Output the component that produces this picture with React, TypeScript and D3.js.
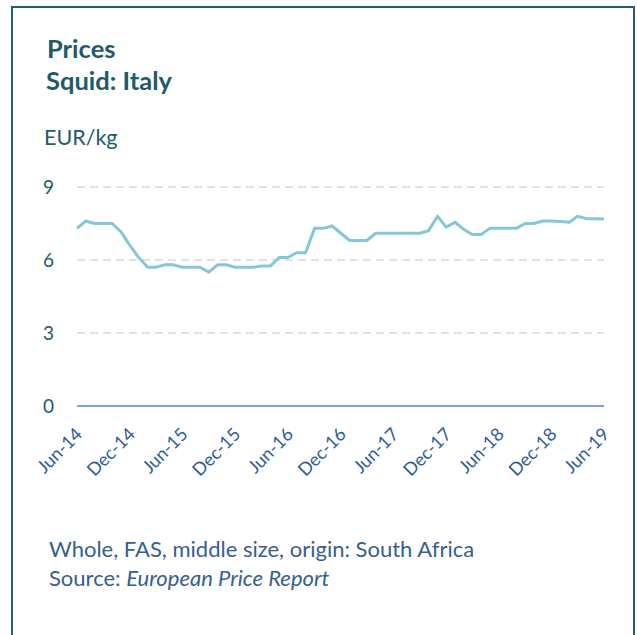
import React from "react";
import * as d3 from "d3";

const titleLines = ["Prices", "Squid: Italy"];
const unitLabel = "EUR/kg";
const yTicks = [0, 3, 6, 9];
const xTickLabels = ["Jun-14", "Dec-14", "Jun-15", "Dec-15", "Jun-16", "Dec-16", "Jun-17", "Dec-17", "Jun-18", "Dec-18", "Jun-19"];
const startYear = 2014;
const startMonth = 5; // June (0-based)
const prices = [
  7.3, 7.6, 7.5, 7.5, 7.5, 7.15, 6.6, 6.1, 5.7, 5.7, 5.8, 5.8,
  5.7, 5.7, 5.7, 5.5, 5.8, 5.8, 5.7, 5.7, 5.7, 5.75, 5.75, 6.1,
  6.1, 6.3, 6.3, 7.3, 7.3, 7.4, 7.1, 6.8, 6.8, 6.8, 7.1, 7.1,
  7.1, 7.1, 7.1, 7.1, 7.2, 7.8, 7.35, 7.55, 7.25, 7.05, 7.05, 7.3,
  7.3, 7.3, 7.3, 7.5, 7.5, 7.6, 7.6, 7.58, 7.55, 7.8, 7.7, 7.7, 7.68,
];
const footnote = "Whole, FAS, middle size, origin: South Africa";
const sourcePrefix = "Source: ";
const sourceName = "European Price Report";

const W = 637;
const H = 635;
const FONT = "Lato, 'Open Sans', sans-serif";

export default function App() {
  const dates = prices.map((_, i) => new Date(startYear, startMonth + i, 1));
  const x = d3.scaleTime().domain([dates[0], dates[dates.length - 1]]).range([77, 604]);
  const y = d3.scaleLinear().domain([0, 9]).range([406, 187]);
  const line = d3
    .line<number>()
    .x((_, i) => x(dates[i]))
    .y((d) => y(d));
  const tickDates = xTickLabels.map((_, i) => new Date(startYear, startMonth + i * 6, 1));

  return (
    <svg
      width={W}
      height={H}
      style={{ position: "absolute", left: 0, top: 0, background: "#fff" }}
      fontFamily={FONT}
    >
      <rect x={12} y={7} width={622} height={640} fill="#fff" stroke="#23606e" strokeWidth={2} />
      <text x={47} y={58} fontSize={25.5} fontWeight={700} fill="#215a68">
        {titleLines[0]}
      </text>
      <text x={46} y={90} fontSize={25.5} fontWeight={700} fill="#215a68">
        {titleLines[1]}
      </text>
      <text x={44} y={145} fontSize={21.5} fill="#215a68">
        {unitLabel}
      </text>

      {yTicks.map((t) => (
        <g key={t}>
          {t > 0 && (
            <line
              x1={77}
              x2={604}
              y1={y(t)}
              y2={y(t)}
              stroke="#d9d9d9"
              strokeWidth={1.5}
              strokeDasharray="8,5"
            />
          )}
          <text x={54} y={y(t)} dy="0.35em" textAnchor="end" fontSize={19} fill="#215a68">
            {t}
          </text>
        </g>
      ))}
      <line x1={77} x2={604} y1={y(0)} y2={y(0)} stroke="#5a86c2" strokeWidth={1.5} />

      <path d={line(prices) || ""} fill="none" stroke="#86c7d7" strokeWidth={3} strokeLinejoin="round" />

      {xTickLabels.map((lab, i) => (
        <text
          key={lab}
          transform={`translate(${x(tickDates[i]) + 2},${431}) rotate(-45)`}
          textAnchor="end"
          dy="0.35em"
          fontSize={18}
          fill="#2e5c99"
        >
          {lab}
        </text>
      ))}

      <text x={49} y={557} fontSize={22} fill="#35608f">
        {footnote}
      </text>
      <text x={49} y={586} fontSize={22} fill="#35608f">
        {sourcePrefix}
        <tspan fontStyle="italic">{sourceName}</tspan>
      </text>
    </svg>
  );
}
